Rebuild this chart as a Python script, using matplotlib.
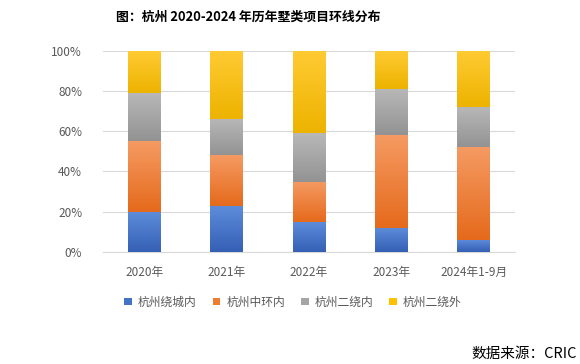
import matplotlib
matplotlib.use("Agg")
import matplotlib.pyplot as plt
import numpy as np
from matplotlib.colors import LinearSegmentedColormap

plt.rcParams['font.family'] = ['Noto Sans CJK SC', 'DejaVu Sans']

years = ["2020年", "2021年", "2022年", "2023年", "2024年1-9月"]
series = ["杭州绕城内", "杭州中环内", "杭州二绕内", "杭州二绕外"]
inner_ring = [20, 23, 15, 12, 6]
middle_ring = [35, 25, 20, 46, 46]
second_inner = [24, 18, 24, 23, 20]
second_outer = [21, 34, 41, 19, 28]

colors = ["#4472C4", "#ED7D31", "#A5A5A5", "#FFC000"]
# (top, bottom) shades for the gradient fill
shades = [("#5E8DDB", "#3560B5"), ("#F59A62", "#E56A1C"),
          ("#B8B8B8", "#939393"), ("#FFCB33", "#EDB300")]

fig = plt.figure(figsize=(5.8, 3.64), dpi=100)
ax = fig.add_axes([0.1776, 0.3077, 0.7104, 0.553])

x = np.arange(len(years))
width = 0.4
bottom = np.zeros(len(years))
data = [inner_ring, middle_ring, second_inner, second_outer]
grad = np.linspace(0, 1, 64).reshape(-1, 1)
for vals, name, c, (top, bot) in zip(data, series, colors, shades):
    vals = np.array(vals, dtype=float)
    bars = ax.bar(x, vals, width, bottom=bottom, color=c, label=name,
                  edgecolor="none", zorder=2)
    cmap = LinearSegmentedColormap.from_list(name, [bot, top])
    for b in bars:
        x0, y0 = b.get_x(), b.get_y()
        im = ax.imshow(grad, cmap=cmap, aspect="auto", origin="lower",
                       extent=(x0, x0 + b.get_width(), y0, y0 + b.get_height()),
                       zorder=3)
        im.set_clip_path(b)
    bottom += vals

ax.set_xlim(-0.5, len(years) - 0.5)
ax.set_ylim(0, 100)
ax.set_yticks(np.arange(0, 101, 20))
ax.set_yticklabels([f"{v}%" for v in range(0, 101, 20)])
ax.set_xticks(x)
ax.set_xticklabels(years)
ax.tick_params(axis="both", length=0, labelsize=8.5, colors="#595959")
ax.tick_params(axis="y", pad=15)
ax.tick_params(axis="x", pad=10)
ax.grid(axis="y", color="#D9D9D9", linewidth=0.8, zorder=0)
for s in ["top", "right", "left"]:
    ax.spines[s].set_visible(False)
ax.spines["bottom"].set_color("#D9D9D9")

fig.text(0.428, 0.953, "图：杭州 2020-2024 年历年墅类项目环线分布",
         ha="center", va="center", fontsize=9.3, fontweight="bold")

handles, labels = ax.get_legend_handles_labels()
fig.legend(handles, labels, loc="center", bbox_to_anchor=(0.505, 0.17),
           ncol=4, frameon=False, fontsize=8.5, handlelength=0.65,
           handleheight=0.65, handletextpad=0.5, columnspacing=1.35,
           labelcolor="#595959")

fig.text(0.995, 0.027, "数据来源：CRIC", ha="right", va="center", fontsize=10.5)

fig.savefig("out.png", dpi=100)
